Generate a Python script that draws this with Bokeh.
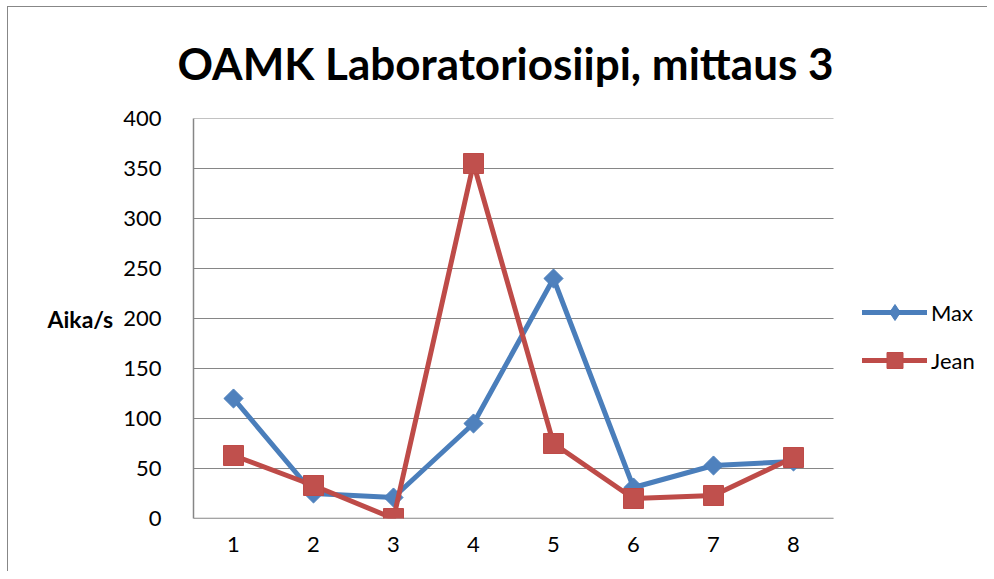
import math
from bokeh.plotting import figure
from bokeh.models import (ColumnDataSource, FixedTicker, Legend, LegendItem, Range1d)
from bokeh.embed import file_html
from bokeh.resources import INLINE

# --- data ---
runs = [1, 2, 3, 4, 5, 6, 7, 8]
max_times = [120, 25, 21, 95, 240, 31, 53, 57]
jean_times = [63, 33, 0, 355, 75, 20, 23, 61]
y_ticks = [0, 50, 100, 150, 200, 250, 300, 350, 400]
title_text = "OAMK Laboratoriosiipi, mittaus 3"
y_label = "Aika/s"
series_names = ["Max", "Jean"]

FONT = "Lato"
GRAY = "#868686"
X0, X1 = 0.5, 8.5          # category axis extent
PX_PER_CAT = 80
FRAME_W = 795               # frame also hosts the legend area on the right

p = figure(width=980, height=565, output_backend="svg", toolbar_location=None,
           x_range=Range1d(X0, X0 + FRAME_W / PX_PER_CAT), y_range=Range1d(0, 400),
           min_border_left=185, min_border_right=0, min_border_top=111, min_border_bottom=54)
p.styles = {"margin-left": "7px", "margin-top": "6px",
            "border-left": "1px solid #878787", "border-top": "1px solid #878787"}
p.outline_line_color = None
p.background_fill_color = "white"
p.border_fill_color = "white"

p.title.text = title_text
p.title.align = "left"
p.title.offset = -16
p.title.text_font = FONT
p.title.text_font_style = "bold"
p.title.text_font_size = "44px"
p.title.text_color = "black"
p.title.vertical_align = "top"
p.title.standoff = 55

# grid drawn only across the category extent
p.xgrid.grid_line_color = None
p.ygrid.grid_line_color = None
p.segment(x0=[X0] * len(y_ticks), y0=y_ticks, x1=[X1] * len(y_ticks), y1=y_ticks,
          line_color=GRAY, line_width=1.2)
p.segment(x0=[X0], y0=[0], x1=[X1], y1=[0], line_color=GRAY, line_width=1.5)

p.yaxis.ticker = FixedTicker(ticks=y_ticks)
p.xaxis.ticker = FixedTicker(ticks=runs)

for ax in (p.xaxis[0], p.yaxis[0]):
    ax.axis_line_color = GRAY
    ax.axis_line_width = 1.5
    ax.major_tick_line_color = None
    ax.minor_tick_line_color = None
    ax.major_label_text_font = FONT
    ax.major_label_text_font_size = "22px"
    ax.major_label_text_color = "black"
p.xaxis.axis_line_color = None

p.yaxis.major_label_standoff = 26
p.xaxis.major_label_standoff = 12
p.yaxis.axis_label = y_label
p.yaxis.axis_label_orientation = "horizontal"
p.yaxis.axis_label_text_font = FONT
p.yaxis.axis_label_text_font_style = "bold"
p.yaxis.axis_label_text_font_size = "23px"
p.yaxis.axis_label_text_color = "black"
p.yaxis.axis_label_standoff = 7

src = ColumnDataSource(dict(x=runs, max=max_times, jean=jean_times))

l_max = p.line("x", "max", source=src, line_color="#4A7EBB", line_width=5, line_join="round", line_cap="round")
# diamond used for the legend; hidden under the rotated squares on the chart
d_max = p.scatter("x", "max", source=src, marker="diamond", size=16,
                  fill_color="#4F81BD", line_color="#4A7EBB", line_width=1)
m_max = p.scatter("x", "max", source=src, marker="square", size=13.5, angle=math.pi / 4,
                  fill_color="#4F81BD", line_color="#4A7EBB", line_width=1)
l_jean = p.line("x", "jean", source=src, line_color="#BE4B48", line_width=5, line_join="round", line_cap="round")
m_jean = p.scatter("x", "jean", source=src, marker="square", size=20,
                   fill_color="#C0504D", line_color="#BE4B48", line_width=1)

legend = Legend(items=[LegendItem(label=series_names[0], renderers=[l_max, d_max]),
                       LegendItem(label=series_names[1], renderers=[l_jean, m_jean])],
                location=(669, 138), orientation="vertical",
                glyph_width=65, glyph_height=40, label_height=40, spacing=8,
                label_standoff=4, padding=0, margin=0,
                border_line_color=None, background_fill_alpha=0,
                label_text_font=FONT, label_text_font_size="22px", label_text_color="black",
                label_text_baseline="middle")
p.add_layout(legend, "center")

open("out.html", "w").write(file_html(p, INLINE))
